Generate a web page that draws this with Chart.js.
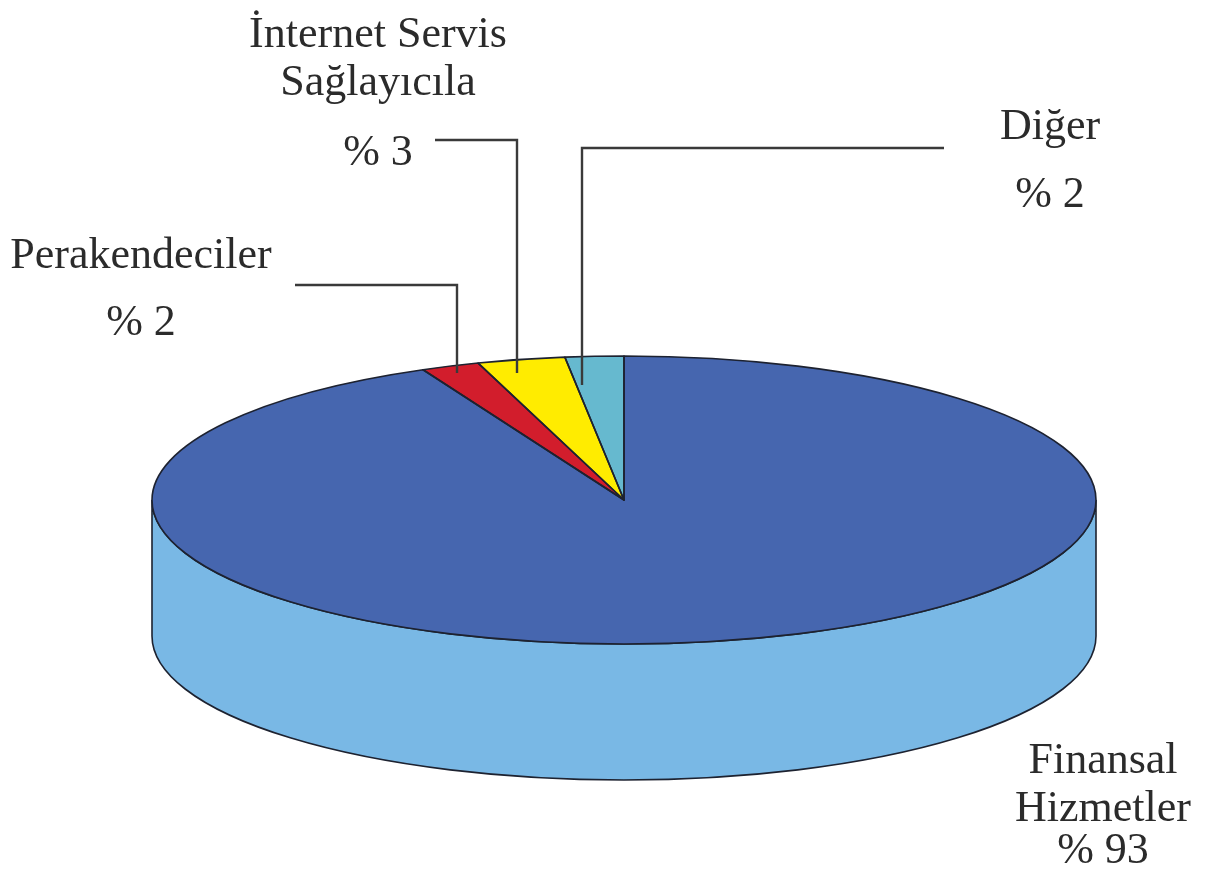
<!DOCTYPE html>
<html><head><meta charset="utf-8">
<script src="https://cdn.jsdelivr.net/npm/chart.js@4"></script>
<style>html,body{margin:0;padding:0;background:#fff;}#wrap{position:relative;width:1214px;height:882px;}</style>
</head><body><div id="wrap"><canvas id="c" width="1214" height="882"></canvas></div>
<script>
// ---- data ----
const categories = ['Finansal Hizmetler', 'Perakendeciler', 'İnternet Servis Sağlayıcıla', 'Diğer'];
const shares = [93, 2, 3, 2];
const labelLines = [['Finansal', 'Hizmetler'], ['Perakendeciler'], ['İnternet Servis', 'Sağlayıcıla'], ['Diğer']];
const percentLabels = shares.map(v => '% ' + v);

// ---- styles / layout ----
const topColors = ['#4666AF', '#D21D2C', '#FFEC00', '#66B9CF'];
const sideColors = ['#79B8E5', '#9E1520', '#C8B800', '#4A92A6'];
const CX = 624, CY = 500, RX = 472, RY = 144, DEPTH = 136;
const FONT = '44px "Liberation Serif", "DejaVu Serif", serif';
const TEXT_COLOR = '#2b2b2b';
// label layout: centre x, first baseline y, line gap, percent baseline
const labelLayout = [
  {x: 1103, y: 773, gap: 48, py: 863},
  {x: 141, y: 268, gap: 48, py: 335},
  {x: 378, y: 47, gap: 48, py: 165},
  {x: 1050, y: 139, gap: 48, py: 207}
];
const leaders = [
  null,
  [[295, 285], [457, 285], [457, 373]],
  [[435, 140], [517, 140], [517, 373]],
  [[944, 148], [582, 148], [582, 385]]
];

function applyT(ctx, arc) {
  const k = arc.outerRadius;
  ctx.translate(CX, CY);
  ctx.scale(RX / k, RY / k);
  ctx.translate(-arc.x, -arc.y);
}

const pie3d = {
  id: 'pie3d',
  beforeDatasetsDraw(chart) {
    const ctx = chart.ctx;
    const arcs = chart.getDatasetMeta(0).data;
    // side walls (front half only)
    arcs.forEach((arc, i) => {
      const a0 = Math.max(arc.startAngle, 0), a1 = Math.min(arc.endAngle, Math.PI);
      if (a1 <= a0) return;
      ctx.save();
      ctx.beginPath();
      ctx.ellipse(CX, CY, RX, RY, 0, a0, a1, false);
      ctx.lineTo(CX + RX * Math.cos(a1), CY + DEPTH + RY * Math.sin(a1));
      ctx.ellipse(CX, CY + DEPTH, RX, RY, 0, a1, a0, true);
      ctx.closePath();
      ctx.fillStyle = sideColors[i];
      ctx.fill();
      ctx.lineWidth = 1.6;
      ctx.strokeStyle = '#1d2230';
      ctx.stroke();
      ctx.restore();
    });
    const a = arcs[0];
    ctx.save();
    applyT(ctx, a);
  },
  afterDatasetsDraw(chart) {
    const ctx = chart.ctx;
    ctx.restore();
    const arcs = chart.getDatasetMeta(0).data;
    arcs.forEach(arc => {
      ctx.save();
      applyT(ctx, arc);
      ctx.beginPath();
      ctx.moveTo(arc.x, arc.y);
      ctx.arc(arc.x, arc.y, arc.outerRadius, arc.startAngle, arc.endAngle, false);
      ctx.closePath();
      ctx.restore();
      ctx.save();
      ctx.lineWidth = 1.6;
      ctx.lineJoin = 'round';
      ctx.strokeStyle = '#1d2230';
      ctx.stroke();
      ctx.restore();
    });
  },
  afterDraw(chart) {
    const ctx = chart.ctx;
    ctx.save();
    ctx.strokeStyle = '#3a3a3a';
    ctx.lineWidth = 2.4;
    leaders.forEach(pts => {
      if (!pts) return;
      ctx.beginPath();
      ctx.moveTo(pts[0][0], pts[0][1]);
      for (let j = 1; j < pts.length; j++) ctx.lineTo(pts[j][0], pts[j][1]);
      ctx.stroke();
    });
    ctx.font = FONT;
    ctx.fillStyle = TEXT_COLOR;
    ctx.textAlign = 'center';
    ctx.textBaseline = 'alphabetic';
    labelLines.forEach((lines, i) => {
      const L = labelLayout[i];
      lines.forEach((t, j) => ctx.fillText(t, L.x, L.y + j * L.gap));
      ctx.fillText(percentLabels[i], L.x, L.py);
    });
    ctx.restore();
  }
};

new Chart(document.getElementById('c'), {
  type: 'pie',
  data: {
    labels: categories,
    datasets: [{data: shares, backgroundColor: topColors, borderWidth: 0, clip: false}]
  },
  options: {
    responsive: false,
    animation: false,
    events: [],
    layout: {padding: 0},
    plugins: {legend: {display: false}, tooltip: {enabled: false}}
  },
  plugins: [pie3d]
});
</script></body></html>
